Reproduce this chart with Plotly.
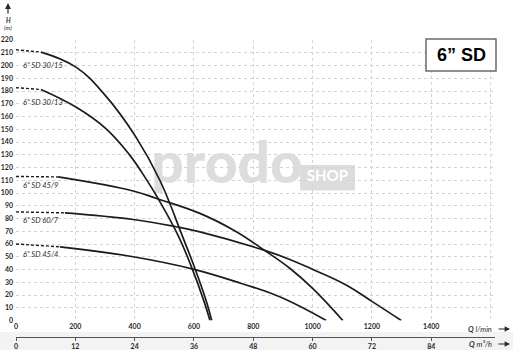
import plotly.graph_objects as go

# ---- data (Q in l/min, H in m) ----
q_30_15 = [0, 84, 202, 303, 404, 485, 563, 603, 642, 660]
h_30_15 = [212.3, 210.5, 198.7, 176, 144, 110, 65, 41, 15, 0]

q_30_13 = [0, 84, 202, 303, 384, 440, 479, 546, 590, 634, 654]
h_30_13 = [182.6, 181.2, 167.4, 150.5, 129.5, 110.5, 95.7, 67, 43, 15, 0]

q_45_9 = [0, 142, 395, 474, 620, 740, 838, 923, 1001, 1102]
h_45_9 = [113, 112.6, 101.6, 95.7, 84, 70, 55, 41, 25, 0]

q_60_7 = [0, 165, 395, 540, 620, 838, 923, 1001, 1113, 1200, 1299]
h_60_7 = [85.2, 84.4, 79.2, 73.5, 69.5, 55, 47.9, 40, 27.8, 15, 0]

q_45_4 = [0, 148, 395, 597, 760, 889, 1046]
h_45_4 = [60, 57.8, 50, 40.3, 29, 18.6, 0]

series_names = ["6” SD 30/15", "6” SD 30/13", "6” SD 45/9", "6” SD 60/7", "6” SD 45/4"]
label_heads = [200, 171.3, 106, 78.7, 51.8]

q_ticks = [0, 200, 400, 600, 800, 1000, 1200, 1400]
m3h_ticks = [0, 12, 24, 36, 48, 60, 72, 84]
h_ticks = list(range(0, 221, 10))

title_text = "6” SD"

series = [(q_30_15, h_30_15), (q_30_13, h_30_13), (q_45_9, h_45_9),
          (q_60_7, h_60_7), (q_45_4, h_45_4)]

X_MAX = 1615
LINE_COLOR = "#1c1c1c"
GRID = "#d4d4d4"
TXT = "#2a2a2a"
FONT = "Lato"

fig = go.Figure()

# watermark (drawn first so the curves sit above it)
fig.add_trace(go.Scatter(
    x=[712], y=[119], mode="text", text=["prodo"], hoverinfo="skip",
    textfont=dict(family=FONT, size=57, color="#dddddd", weight=900),
    showlegend=False, xaxis="x", yaxis="y"))
fig.add_trace(go.Scatter(
    x=[1050], y=[112], mode="text", text=["SHOP"], hoverinfo="skip",
    textfont=dict(family=FONT, size=15, color="#ffffff", weight="bold"),
    showlegend=False, xaxis="x", yaxis="y"))

for (q, h) in series:
    # dashed start
    fig.add_trace(go.Scatter(
        x=q[:2], y=h[:2], mode="lines", hoverinfo="skip",
        line=dict(color=LINE_COLOR, width=1.4, dash="3px,2px"),
        showlegend=False, xaxis="x", yaxis="y"))
    fig.add_trace(go.Scatter(
        x=q[1:], y=h[1:], mode="lines", hoverinfo="skip",
        line=dict(color=LINE_COLOR, width=1.7, shape="spline", smoothing=1.2),
        showlegend=False, xaxis="x", yaxis="y"))

# dummy trace for second (m3/h) axis
fig.add_trace(go.Scatter(x=[None], y=[None], xaxis="x2", yaxis="y",
                         showlegend=False, hoverinfo="skip"))

annotations = []
for name, hh in zip(series_names, label_heads):
    annotations.append(dict(
        x=18, y=hh, xref="x", yref="y", text=name, showarrow=False,
        xanchor="left", yanchor="middle",
        font=dict(family=FONT, size=7.5, color=TXT, style="italic")))

W, Hh = 513, 350
L, R, T, B = 16, 18, 40, 13
pw, ph = W - L - R, Hh - T - B


def px(xp):
    return (xp - L) / pw


def py(yp):
    return (Hh - B - yp) / ph


# title box
annotations.append(dict(
    x=px(461), y=py(55), xref="paper", yref="paper", text="<b>" + title_text + "</b>",
    showarrow=False, xanchor="center", yanchor="middle",
    font=dict(family="Liberation Sans", size=18, color="#000")))

# axis titles
annotations += [
    dict(x=px(8), y=py(20), xref="paper", yref="paper", text="<b><i>H</i></b>",
         showarrow=False, xanchor="center", yanchor="middle",
         font=dict(family=FONT, size=6.5, color=TXT)),
    dict(x=px(8), y=py(27.5), xref="paper", yref="paper", text="<i>(m)</i>",
         showarrow=False, xanchor="center", yanchor="middle",
         font=dict(family=FONT, size=6, color=TXT)),
    dict(x=px(8), y=py(3), xref="paper", yref="paper", text="",
         ax=0, ay=12, showarrow=True, arrowhead=2, arrowsize=1, arrowwidth=1.2,
         arrowcolor=TXT),
    dict(x=px(480), y=py(329), xref="paper", yref="paper",
         text="<b><i>Q</i></b> <i>l/min</i>", showarrow=False,
         xanchor="center", yanchor="middle",
         font=dict(family=FONT, size=7.5, color=TXT)),
    dict(x=px(480), y=py(344), xref="paper", yref="paper",
         text="<b><i>Q</i></b> <i>m³/h</i>", showarrow=False,
         xanchor="center", yanchor="middle",
         font=dict(family=FONT, size=7.5, color=TXT)),
    dict(x=px(510), y=py(329), xref="paper", yref="paper", text="",
         ax=-13, ay=0, showarrow=True, arrowhead=2, arrowsize=0.9,
         arrowwidth=1.2, arrowcolor=TXT),
    dict(x=px(510), y=py(344), xref="paper", yref="paper", text="",
         ax=-13, ay=0, showarrow=True, arrowhead=2, arrowsize=0.9,
         arrowwidth=1.2, arrowcolor=TXT),
]

shapes = [
    dict(type="rect", xref="paper", yref="paper",
         x0=px(-5), x1=px(520), y0=py(351), y1=py(332),
         fillcolor="#f3f3f3", line=dict(width=0), layer="below"),
    dict(type="rect", xref="x", yref="y", x0=958, x1=1143, y0=102, y1=122,
         fillcolor="#dcdcdc", line=dict(width=0), layer="below"),
    dict(type="rect", xref="paper", yref="paper",
         x0=px(426), x1=px(496), y0=py(71), y1=py(39),
         fillcolor="white", line=dict(color="#6a6a6a", width=1.5), layer="above"),
]

y_bottom_dom = (Hh - B - 320.5) / ph

fig.update_layout(
    width=W, height=Hh,
    margin=dict(l=L, r=R, t=T, b=B, pad=0),
    paper_bgcolor="white", plot_bgcolor="white",
    showlegend=False,
    xaxis=dict(range=[0, X_MAX], domain=[0, 1], anchor="y",
               tickvals=list(range(0, X_MAX + 1, 200)),
               ticktext=[str(v) if v in q_ticks else "" for v in range(0, X_MAX + 1, 200)],
               showgrid=True, gridcolor=GRID, griddash="dot", gridwidth=1,
               zeroline=False, showline=False, ticks="",
               tickfont=dict(family=FONT, size=7, color=TXT, weight="bold"),
               automargin=False, fixedrange=True),
    xaxis2=dict(range=[0, X_MAX * 0.06], domain=[0, 1], anchor="free",
                overlaying="x", position=0, side="bottom",
                tickvals=m3h_ticks, showgrid=False, zeroline=False,
                showline=True, linecolor="#555", linewidth=1,
                ticks="outside", ticklen=3, tickcolor="#555",
                tickfont=dict(family=FONT, size=7, color=TXT, weight="bold"),
                automargin=False),
    yaxis=dict(range=[0, 220], domain=[y_bottom_dom, 1], anchor="x",
               tickvals=h_ticks, showgrid=True, gridcolor=GRID,
               griddash="dot", gridwidth=1, zeroline=False, showline=False,
               ticks="", ticklabelstandoff=2,
               tickfont=dict(family=FONT, size=7, color=TXT, weight="bold"),
               automargin=False),
    annotations=annotations,
    shapes=shapes,
)

fig.write_html("out.html")
